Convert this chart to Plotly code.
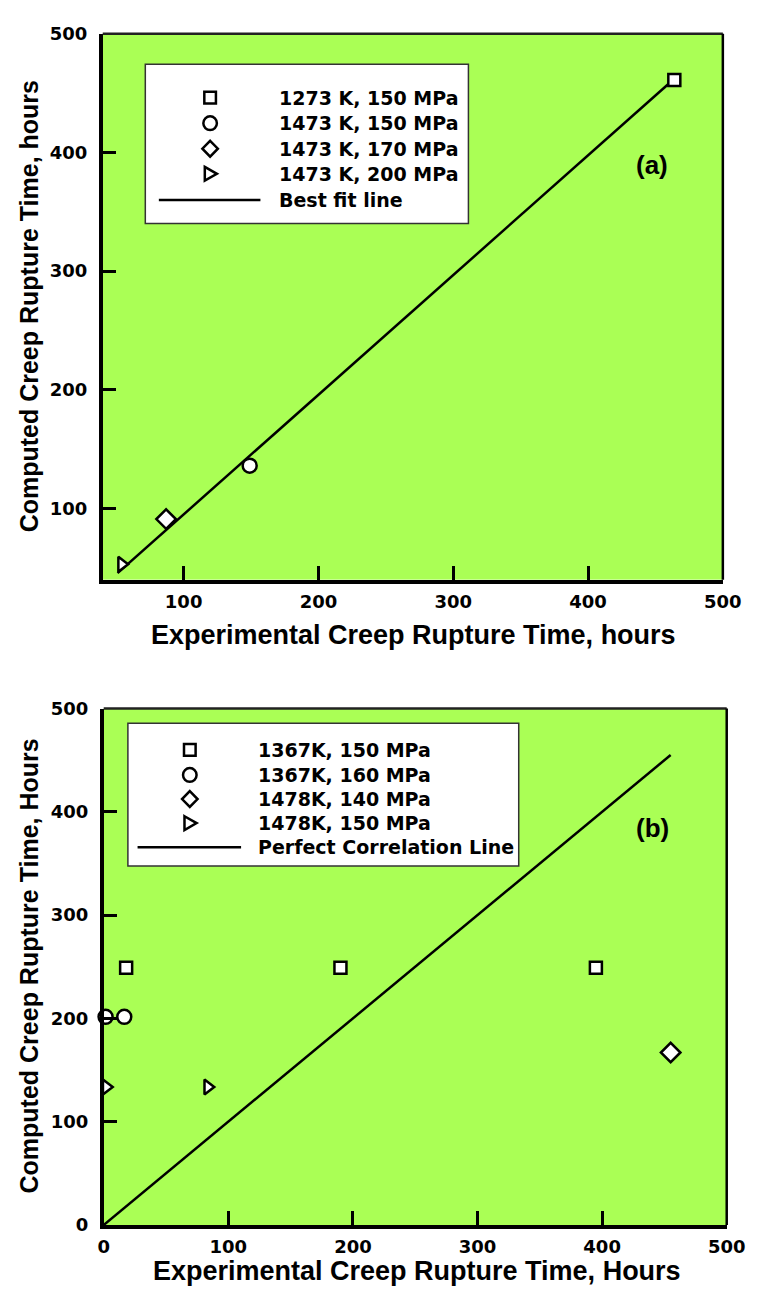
import plotly.graph_objects as go

W, H = 767, 1296

# ---- Panel (a): computed vs experimental creep rupture time (hours)
a_names = ["1273 K, 150 MPa", "1473 K, 150 MPa", "1473 K, 170 MPa", "1473 K, 200 MPa"]
a_exp = [[464], [149], [87], [54]]
a_comp = [[461], [136], [91], [53]]
a_fit_name = "Best fit line"
a_fit_x = [51, 464]
a_fit_y = [45.5, 462]
a_ticks = [100, 200, 300, 400, 500]

# ---- Panel (b)
b_names = ["1367K, 150 MPa", "1367K, 160 MPa", "1478K, 140 MPa", "1478K, 150 MPa"]
b_exp = [[18, 190, 395], [1.5, 16.5], [455], [2, 83.5]]
b_comp = [[249, 249, 249], [201.5, 201.5], [167], [133.5, 133.5]]
b_line_name = "Perfect Correlation Line"
b_line_x = [0, 455]
b_line_y = [0, 455]
b_ticks = [0, 100, 200, 300, 400, 500]

symbols = ["square", "circle", "diamond", "triangle-right"]
sizes = [12, 14, 15, 13]

BG = "#AAFF55"
TICK_FONT = dict(family="DejaVu Sans", size=18, color="black")
LEG_FONT = "DejaVu Sans"


def px(x):
    return x / W


def py(y):
    return 1 - y / H


# panel boxes in pixels: left, right, top, bottom
A_BOX = (100, 741, 23, 578)
B_BOX = (101, 745, 709, 1234)

fig = go.Figure()

fig.add_trace(go.Scatter(
    x=a_fit_x, y=a_fit_y, mode="lines", name=a_fit_name, xaxis="x", yaxis="y",
    line=dict(color="black", width=2.5), showlegend=False))
for name, xs, ys, sym, sz in zip(a_names, a_exp, a_comp, symbols, sizes):
    fig.add_trace(go.Scatter(
        x=xs, y=ys, mode="markers", name=name, xaxis="x", yaxis="y",
        marker=dict(symbol=sym, size=sz, color="white", line=dict(color="black", width=2.5)),
        cliponaxis=False, showlegend=False))

for name, xs, ys, sym, sz in zip(b_names, b_exp, b_comp, symbols, sizes):
    fig.add_trace(go.Scatter(
        x=xs, y=ys, mode="markers", name=name, xaxis="x2", yaxis="y2",
        marker=dict(symbol=sym, size=sz, color="white", line=dict(color="black", width=2.5)),
        cliponaxis=False, showlegend=False))
fig.add_trace(go.Scatter(
    x=b_line_x, y=b_line_y, mode="lines", name=b_line_name, xaxis="x2", yaxis="y2",
    line=dict(color="black", width=2.5), showlegend=False))


def axis(box, rng, ticks, horizontal, anchor):
    l, r, t, b = box
    dom = [px(l), px(r)] if horizontal else [py(b), py(t)]
    return dict(
        domain=dom, range=rng, anchor=anchor, tickvals=ticks,
        ticktext=[f"<b>{v}</b>" for v in ticks],
        ticks="inside", ticklen=14, tickwidth=2.5, tickcolor="black",
        ticklabelstandoff=3 if horizontal else 8,
        showline=True, linewidth=3.5, linecolor="black",
        showgrid=False, zeroline=False, tickfont=TICK_FONT, fixedrange=True)


fig.update_layout(
    width=W, height=H, margin=dict(l=0, r=0, t=0, b=0),
    paper_bgcolor="white", plot_bgcolor=BG, showlegend=False,
    xaxis=axis(A_BOX, [40, 500], a_ticks, True, "y"),
    yaxis=axis(A_BOX, [40, 500], a_ticks, False, "x"),
    xaxis2=axis(B_BOX, [0, 500], b_ticks, True, "y2"),
    yaxis2=axis(B_BOX, [0, 500], b_ticks, False, "x2"),
)

shapes = []
annotations = []

# top / right frame edges
for (l, r, t, b) in (A_BOX, B_BOX):
    shapes.append(dict(type="line", xref="paper", yref="paper",
                       x0=px(l), x1=px(r), y0=py(t), y1=py(t),
                       line=dict(color="#222", width=2.5)))
    shapes.append(dict(type="line", xref="paper", yref="paper",
                       x0=px(r), x1=px(r), y0=py(t), y1=py(b),
                       line=dict(color="black", width=2.5)))


def symbol_shape(sym, cx, cy):
    base = dict(xref="paper", yref="paper", fillcolor="white",
                line=dict(color="black", width=2.5), layer="above")
    if sym == "square":
        h = 6
        return dict(base, type="rect", x0=px(cx - h), x1=px(cx + h), y0=py(cy + h), y1=py(cy - h))
    if sym == "circle":
        h = 7
        return dict(base, type="circle", x0=px(cx - h), x1=px(cx + h), y0=py(cy + h), y1=py(cy - h))
    if sym == "diamond":
        h = 8
        pts = [(cx, cy - h), (cx + h, cy), (cx, cy + h), (cx - h, cy)]
    else:
        pts = [(cx - 5.5, cy - 7), (cx + 7, cy), (cx - 5.5, cy + 7)]
    path = "M" + " L".join(f"{px(x):.5f},{py(y):.5f}" for x, y in pts) + " Z"
    return dict(base, type="path", path=path)


def legend(box, mark_x, text_x, rows, line_x, names, line_name, fsize):
    l, r, t, b = box
    shapes.append(dict(type="rect", xref="paper", yref="paper",
                       x0=px(l), x1=px(r), y0=py(b), y1=py(t),
                       fillcolor="white", line=dict(color="#333", width=1.5), layer="above"))
    for name, sym, ry in zip(names, symbols, rows[:-1]):
        shapes.append(symbol_shape(sym, mark_x, ry))
        annotations.append(dict(xref="paper", yref="paper", x=px(text_x), y=py(ry),
                                xanchor="left", yanchor="middle", showarrow=False,
                                text=f"<b>{name}</b>",
                                font=dict(family=LEG_FONT, size=fsize, color="black")))
    ly = rows[-1]
    shapes.append(dict(type="line", xref="paper", yref="paper",
                       x0=px(line_x[0]), x1=px(line_x[1]), y0=py(ly), y1=py(ly),
                       line=dict(color="black", width=2.5), layer="above"))
    annotations.append(dict(xref="paper", yref="paper", x=px(text_x), y=py(ly),
                            xanchor="left", yanchor="middle", showarrow=False,
                            text=f"<b>{line_name}</b>",
                            font=dict(family=LEG_FONT, size=fsize, color="black")))


legend((144, 478, 54, 216), 211, 280, [88, 114, 140, 165.5, 192], (158, 263),
       a_names, a_fit_name, 19)
legend((126, 530, 724, 869), 190, 258, [751, 776.5, 801, 825.5, 850], (136, 243),
       b_names, b_line_name, 19)

# panel tags
for tag, x, y in (("(a)", 668, 157), ("(b)", 668, 830)):
    annotations.append(dict(xref="paper", yref="paper", x=px(x), y=py(y),
                            xanchor="center", yanchor="middle", showarrow=False,
                            text=f"<b>{tag}</b>",
                            font=dict(family="Liberation Sans", size=26, color="black")))

# axis titles
TITLE_Y_FONT = dict(family="Liberation Sans", size=25, color="black")
TITLE_X_FONT = dict(family="Liberation Sans", size=27, color="black")
for text, x, y in (("Computed Creep Rupture Time, hours", 24, 300),
                   ("Computed Creep Rupture Time, Hours", 24, 971)):
    annotations.append(dict(xref="paper", yref="paper", x=px(x), y=py(y),
                            xanchor="center", yanchor="middle", showarrow=False,
                            textangle=-90, text=f"<b>{text}</b>", font=TITLE_Y_FONT))
for text, x, y in (("Experimental Creep Rupture Time, hours", 421, 634),
                   ("Experimental Creep Rupture Time, Hours", 425, 1281)):
    annotations.append(dict(xref="paper", yref="paper", x=px(x), y=py(y),
                            xanchor="center", yanchor="middle", showarrow=False,
                            text=f"<b>{text}</b>", font=TITLE_X_FONT))

fig.update_layout(shapes=shapes, annotations=annotations)
fig.write_html("out.html")
